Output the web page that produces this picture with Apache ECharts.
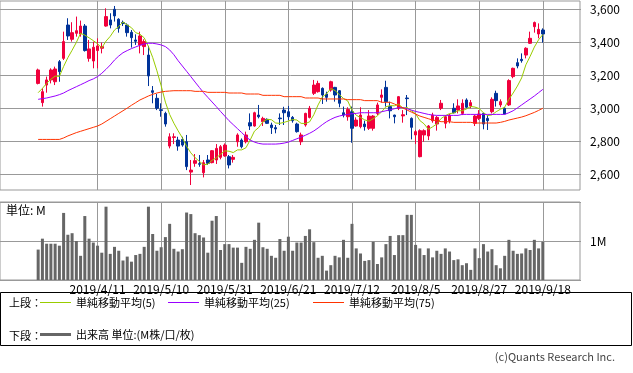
<!DOCTYPE html>
<html><head><meta charset="utf-8">
<script src="https://cdn.jsdelivr.net/npm/echarts@6.0.0/dist/echarts.min.js"></script>
<style>html,body{margin:0;padding:0;background:#fff}#c{width:633px;height:373px}</style>
</head><body><div id="c"></div>
<script>
const dates = ['2019/3/22','2019/3/25','2019/3/26','2019/3/27','2019/3/28','2019/3/29',
'2019/4/1','2019/4/2','2019/4/3','2019/4/4','2019/4/5','2019/4/8','2019/4/9','2019/4/10','2019/4/11','2019/4/12',
'2019/4/15','2019/4/16','2019/4/17','2019/4/18','2019/4/19','2019/4/22','2019/4/23','2019/4/24','2019/4/25','2019/4/26',
'2019/5/7','2019/5/8','2019/5/9','2019/5/10','2019/5/13','2019/5/14','2019/5/15','2019/5/16','2019/5/17',
'2019/5/20','2019/5/21','2019/5/22','2019/5/23','2019/5/24','2019/5/27','2019/5/28','2019/5/29','2019/5/30','2019/5/31',
'2019/6/3','2019/6/4','2019/6/5','2019/6/6','2019/6/7','2019/6/10','2019/6/11','2019/6/12','2019/6/13','2019/6/14',
'2019/6/17','2019/6/18','2019/6/19','2019/6/20','2019/6/21','2019/6/24','2019/6/25','2019/6/26','2019/6/27','2019/6/28',
'2019/7/1','2019/7/2','2019/7/3','2019/7/4','2019/7/5','2019/7/8','2019/7/9','2019/7/10','2019/7/11','2019/7/12',
'2019/7/16','2019/7/17','2019/7/18','2019/7/19','2019/7/22','2019/7/23','2019/7/24','2019/7/25','2019/7/26',
'2019/7/29','2019/7/30','2019/7/31','2019/8/1','2019/8/2','2019/8/5','2019/8/6','2019/8/7','2019/8/8','2019/8/9',
'2019/8/13','2019/8/14','2019/8/15','2019/8/16','2019/8/19','2019/8/20','2019/8/21','2019/8/22','2019/8/23',
'2019/8/26','2019/8/27','2019/8/28','2019/8/29','2019/8/30','2019/9/2','2019/9/3','2019/9/4','2019/9/5','2019/9/6',
'2019/9/9','2019/9/10','2019/9/11','2019/9/12','2019/9/13','2019/9/17','2019/9/18'];

const opens = [3151,3035,3141,3172,3161,3282,3302,3503,3417,3453,3449,3497,3302,3286,3349,3363,3497,3534,3598,3538,
3518,3503,3459,3413,3383,3373,3322,3107,3061,2992,2970,2773,2825,2809,2813,2799,2616,2669,2667,2612,
2689,2673,2689,2705,2713,2709,2693,2799,2809,2799,2914,2894,2960,2920,2934,2900,2884,2942,2990,2980,
2946,2906,2799,2900,2946,3091,3101,3121,3087,3111,3127,3107,2974,2950,2980,2894,2890,2906,2880,2880,
2970,3067,3127,3011,2960,3001,2955,3063,2940,2840,2709,2840,2834,2926,2906,3001,2910,2926,3001,2990,
2970,3051,3015,2910,2940,2970,2940,2980,3091,3021,3001,3021,3192,3276,3296,3322,3393,3493,3449,3473];
const closes = [3232,3101,3172,3232,3238,3222,3403,3437,3457,3469,3497,3349,3359,3369,3377,3373,3554,3503,3558,3483,
3512,3457,3427,3405,3437,3403,3196,3097,3001,2988,2906,2829,2829,2773,2779,2649,2628,2685,2663,2673,
2669,2745,2759,2769,2779,2659,2705,2840,2769,2840,2894,2974,2950,2940,2910,2884,2876,2938,2974,2950,
2926,2860,2840,2970,3001,3141,3151,3081,3067,3161,3081,3031,2960,2994,2880,2930,2960,2890,2954,2954,
3021,3081,3041,2986,2950,3071,2962,3059,2886,2860,2866,2866,2894,2960,2946,3031,2950,2960,2974,3015,
3031,3007,3035,2954,2966,2906,2926,3055,3047,3041,2966,3168,3242,3256,3288,3363,3423,3518,3477,3449];
const lows = [3145,3011,3095,3151,3141,3161,3292,3413,3403,3433,3433,3343,3282,3242,3242,3332,3493,3483,3524,3457,
3497,3433,3367,3383,3332,3322,3135,3031,2990,2950,2890,2759,2785,2745,2769,2628,2538,2648,2648,2584,
2659,2669,2665,2693,2709,2638,2673,2769,2759,2789,2870,2890,2940,2894,2906,2846,2850,2900,2900,2930,
2914,2854,2779,2890,2940,3081,3095,3027,3041,3101,3041,3007,2946,2926,2793,2890,2880,2866,2870,2866,
2960,3035,3011,2940,2910,2990,2914,2960,2813,2785,2705,2799,2809,2914,2866,2990,2880,2910,2970,2970,
2960,3001,3001,2894,2930,2874,2870,2970,3011,3007,2966,3015,3182,3242,3276,3302,3389,3457,3423,3397];
const highs = [3240,3121,3192,3242,3252,3292,3463,3544,3520,3554,3530,3509,3413,3403,3423,3397,3604,3574,3618,3544,
3530,3513,3473,3447,3463,3417,3377,3135,3087,3031,2980,2850,2850,2829,2829,2840,2689,2725,2719,2689,
2719,2749,2785,2779,2789,2719,2719,2850,2819,2860,2970,2980,3021,2950,2940,2914,2900,2970,3010,3015,
2954,2914,2854,2974,3015,3172,3167,3127,3101,3167,3130,3111,3011,3007,3011,2946,3007,2926,2990,2960,
3035,3115,3167,3041,2962,3075,2990,3081,2946,2870,2874,2874,2900,2974,2954,3051,2960,2966,3031,3055,
3055,3061,3051,2960,2990,2974,2960,3067,3107,3055,3007,3176,3246,3302,3332,3369,3463,3524,3513,3483];

const ma5 = [3095,3121,3151,3176,3195,3193,3253,3306,3351,3398,3453,3442,3426,3409,3390,3365,3406,3435,3473,3494,
3522,3503,3487,3457,3448,3426,3374,3308,3227,3137,3038,2964,2911,2865,2823,2772,2732,2703,2681,2660,
2664,2687,2702,2723,2744,2742,2734,2750,2750,2763,2810,2863,2885,2920,2934,2932,2912,2910,2916,2924,
2933,2930,2910,2909,2919,2962,3021,3069,3088,3120,3108,3084,3060,3045,2989,2959,2945,2931,2923,2938,
2956,2980,3010,3017,3016,3026,3002,3006,2986,2968,2927,2907,2874,2889,2906,2939,2956,2969,2972,2986,
2986,2997,3012,3008,2999,2974,2957,2961,2980,2995,3007,3055,3093,3135,3184,3263,3314,3370,3414,3446];
const ma25 = [3055,3059,3063,3069,3075,3083,3093,3107,3119,3131,3143,3155,3168,3178,3192,3212,3236,3262,3292,3316,
3336,3349,3361,3371,3381,3389,3393,3393,3389,3383,3373,3353,3324,3288,3256,3224,3192,3159,3127,3095,
3067,3039,3011,2982,2954,2926,2902,2878,2854,2829,2809,2797,2789,2785,2785,2785,2785,2787,2791,2797,
2807,2817,2827,2838,2850,2864,2882,2902,2920,2934,2946,2954,2960,2964,2968,2970,2974,2974,2974,2974,
2974,2980,2986,2992,2998,3005,3005,2998,2990,2982,2976,2970,2964,2960,2958,2958,2958,2958,2958,2958,
2964,2964,2964,2964,2964,2964,2964,2964,2964,2964,2964,2974,2986,3003,3021,3039,3057,3075,3095,3115];
const ma75 = [2813,2813,2813,2813,2813,2813,2822,2834,2844,2854,2862,2870,2878,2886,2894,2906,2922,2938,2954,2970,
2986,3002,3019,3035,3051,3063,3075,3085,3093,3099,3103,3105,3107,3107,3107,3107,3107,3103,3103,3103,
3097,3097,3097,3097,3097,3093,3093,3093,3093,3087,3087,3087,3087,3079,3079,3079,3079,3079,3071,3071,
3071,3071,3071,3063,3063,3063,3063,3057,3057,3057,3057,3057,3057,3053,3053,3053,3053,3047,3047,3047,
3047,3037,3037,3037,3027,3015,3003,2990,2978,2966,2954,2946,2938,2930,2926,2920,2920,2920,2916,2916,
2916,2916,2916,2912,2912,2912,2912,2912,2912,2916,2922,2930,2936,2942,2948,2956,2966,2976,2988,3001];
const volumes = [0.78,1.06,0.93,0.93,0.93,0.88,1.72,1.16,1.20,1.00,0.62,1.64,1.06,0.96,0.88,0.70,1.88,
0.67,0.85,0.75,0.50,0.60,0.47,0.64,0.67,0.85,1.88,1.18,0.75,0.84,1.10,1.44,0.80,
0.73,0.79,1.73,1.69,1.20,1.15,1.09,0.70,1.52,1.64,0.77,0.92,0.92,0.83,0.83,0.44,0.85,0.80,
1.03,1.47,0.84,0.80,0.62,0.57,1.05,0.75,1.11,0.75,0.96,0.96,1.13,1.30,0.97,0.57,0.62,0.24,
0.38,0.62,0.58,1.03,0.57,1.44,0.81,0.68,0.49,0.51,0.98,0.41,0.58,0.92,1.13,0.64,1.15,
1.15,1.67,1.67,0.90,0.81,0.64,0.81,0.58,0.75,0.67,0.81,0.73,0.51,0.53,0.38,0.43,0.26,0.81,
0.56,0.92,0.73,0.79,0.38,0.30,0.62,1.03,0.75,0.67,0.68,0.81,0.77,1.03,0.81,0.98];

const tickLabels = ['2019/4/11','2019/5/10','2019/5/31','2019/6/21','2019/7/12','2019/8/5','2019/8/27','2019/9/18'];
const priceTicks = [2600,2800,3000,3200,3400,3600];
const volumeTicks = [1];
const seriesNames = ['単純移動平均(5)','単純移動平均(25)','単純移動平均(75)','出来高 単位:(M株/口/枚)'];
const seriesColors = ['#99cc00','#9900ff','#ff3300','#666666'];

const PAD = 9;
const padL = Array.from({length: PAD}, (_, k) => 'padL' + k);
const padR = Array.from({length: PAD}, (_, k) => 'padR' + k);
const cats = padL.concat(dates, padR);
const blanks = Array(PAD).fill('-');
const padded = arr => blanks.concat(arr, blanks);
const candle = padded(dates.map((d, i) => [opens[i], closes[i], lows[i], highs[i]]));
const isTick = (idx, val) => tickLabels.indexOf(val) >= 0;

const UP = '#f0003c', DOWN = '#003399', GRID = '#999999';
const jp = '"Noto Sans CJK JP", "Noto Sans", sans-serif';
const legText = {fontSize: 11, color: '#000', fontFamily: jp};
const legendFor = (k, left, top, h) => ({
  data: [{name: seriesNames[k], icon: 'rect',
          itemStyle: {color: seriesColors[k], borderWidth: 0, opacity: 1}}],
  left: left, top: top, itemWidth: 31, itemHeight: h, itemGap: 0, padding: 5,
  selectedMode: false, textStyle: legText});

const chart = echarts.init(document.getElementById('c'), null, {renderer: 'canvas'});
chart.setOption({
  animation: false,
  backgroundColor: '#ffffff',
  grid: [
    {left: -1, top: 1, width: 582, height: 189},
    {left: -1, top: 202, width: 582, height: 78},
    {left: 0, top: 1, width: 580, height: 189, show: true, borderColor: GRID, borderWidth: 1, backgroundColor: 'transparent'},
    {left: 0, top: 202, width: 580, height: 78, show: true, borderColor: GRID, borderWidth: 1, backgroundColor: 'transparent'}
  ],
  xAxis: [
    {gridIndex: 0, type: 'category', data: cats, boundaryGap: false,
     axisLine: {show: false}, axisTick: {show: false}, axisLabel: {show: false},
     splitLine: {show: true, interval: isTick, lineStyle: {color: GRID, width: 1}}},
    {gridIndex: 1, type: 'category', data: cats, boundaryGap: false,
     axisLine: {show: false}, axisTick: {show: false},
     axisLabel: {show: true, interval: isTick, margin: 3, color: '#000', fontSize: 12, fontFamily: jp},
     splitLine: {show: true, interval: isTick, lineStyle: {color: GRID, width: 1}}}
  ],
  yAxis: [
    {gridIndex: 0, type: 'value', position: 'right', min: 2508, max: 3648, scale: true,
     axisLine: {show: false}, axisTick: {show: false, customValues: priceTicks},
     axisLabel: {customValues: priceTicks, margin: 9, color: '#000', fontSize: 12, fontFamily: jp,
       formatter: v => v.toLocaleString('en-US')},
     splitLine: {show: true, lineStyle: {color: GRID, width: 1}}},
    {gridIndex: 1, type: 'value', position: 'right', min: 0, max: 2, interval: 1,
     axisLine: {show: false}, axisTick: {show: false},
     axisLabel: {margin: 9, color: '#000', fontSize: 12, fontFamily: jp, showMinLabel: false, showMaxLabel: false,
       formatter: v => (volumeTicks.indexOf(v) >= 0 ? v + 'M' : '')},
     splitLine: {show: true, lineStyle: {color: GRID, width: 1}}}
  ],
  legend: [
    legendFor(0, 35, 292, 1),
    legendFor(1, 163, 292, 1),
    legendFor(2, 308, 292, 1),
    legendFor(3, 35, 324, 3)
  ],
  graphic: [
    {type: 'rect', shape: {x: 0.5, y: 292.5, width: 631, height: 53}, style: {fill: 'none', stroke: '#000', lineWidth: 1}},
    {type: 'text', x: 9, y: 303, style: {text: '上段：', font: '11px ' + jp, fill: '#000', verticalAlign: 'middle'}},
    {type: 'text', x: 9, y: 336, style: {text: '下段：', font: '11px ' + jp, fill: '#000', verticalAlign: 'middle'}},
    {type: 'text', x: 6, y: 204, style: {text: '単位: M', font: '12px ' + jp, fill: '#000'}},
    {type: 'text', x: 615, y: 351, style: {text: '(c)Quants Research Inc.', font: '11px ' + jp, fill: '#444', align: 'right'}}
  ],
  series: [
    {type: 'candlestick', xAxisIndex: 0, yAxisIndex: 0, data: candle, barWidth: 3,
     itemStyle: {color: UP, color0: DOWN, borderColor: UP, borderColor0: DOWN, borderWidth: 1}},
    {type: 'line', name: seriesNames[0], xAxisIndex: 0, yAxisIndex: 0, data: padded(ma5), symbol: 'none',
     color: seriesColors[0], lineStyle: {width: 1, color: seriesColors[0]}},
    {type: 'line', name: seriesNames[1], xAxisIndex: 0, yAxisIndex: 0, data: padded(ma25), symbol: 'none',
     color: seriesColors[1], lineStyle: {width: 1, color: seriesColors[1]}},
    {type: 'line', name: seriesNames[2], xAxisIndex: 0, yAxisIndex: 0, data: padded(ma75), symbol: 'none',
     color: seriesColors[2], lineStyle: {width: 1, color: seriesColors[2]}},
    {type: 'bar', name: seriesNames[3], xAxisIndex: 1, yAxisIndex: 1, data: padded(volumes), barWidth: 3,
     color: seriesColors[3], itemStyle: {color: seriesColors[3]}}
  ]
});
</script></body></html>
